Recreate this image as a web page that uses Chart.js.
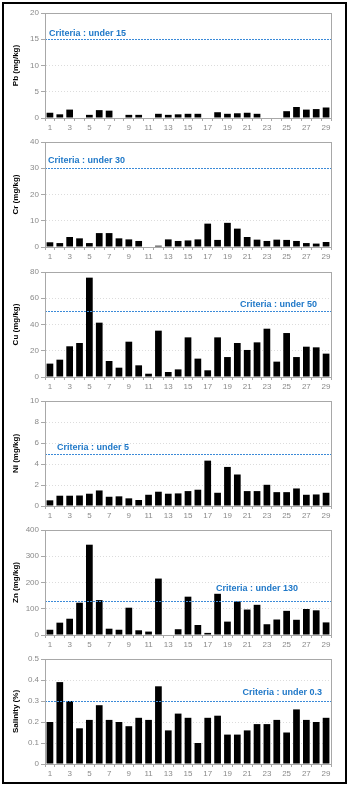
<!DOCTYPE html>
<html>
<head>
<meta charset="utf-8">
<script src="https://cdn.jsdelivr.net/npm/chart.js@4.4.1/dist/chart.umd.min.js"></script>
<style>
  html, body { margin: 0; padding: 0; background: #fff; }
  body { width: 350px; height: 788px; position: relative; overflow: hidden; }
  canvas { position: absolute; left: 0; }
  #frame { position: absolute; left: 2px; top: 2px; width: 345px; height: 782px; box-sizing: border-box; border: 2px solid #000; z-index: 5; pointer-events: none; }
</style>
</head>
<body>
<div id="frame"></div>
<canvas id="c0" width="350" height="130" style="top:0px"></canvas>
<canvas id="c1" width="350" height="130" style="top:129px"></canvas>
<canvas id="c2" width="350" height="130" style="top:259px"></canvas>
<canvas id="c3" width="350" height="130" style="top:388px"></canvas>
<canvas id="c4" width="350" height="130" style="top:517px"></canvas>
<canvas id="c5" width="350" height="130" style="top:646px"></canvas>
<script>
// ---- data ----
const sites = ["1","2","3","4","5","6","7","8","9","10","11","12","13","14","15","16","17","18","19","20","21","22","23","24","25","26","27","28","29"];
const pbValues = [1.0,0.7,1.6,0,0.6,1.5,1.4,0,0.6,0.6,0,0.8,0.6,0.7,0.8,0.8,0,1.1,0.8,0.9,1.0,0.8,0,0,1.3,2.1,1.6,1.7,2.0];
const crValues = [1.8,1.5,3.8,3.3,1.5,5.3,5.3,3.3,2.9,2.3,0,0.5,2.9,2.3,2.5,2.9,8.9,2.7,9.2,7.0,3.8,2.8,2.3,2.8,2.7,2.3,1.5,1.3,1.9];
const cuValues = [10.2,13.2,23.4,25.9,75.7,41.4,12.2,7.1,26.9,8.9,2.5,35.3,3.8,5.8,30.2,14.0,5.1,30.2,15.2,25.9,20.6,26.4,36.8,11.7,33.5,15.2,23.1,22.6,17.8];
const niValues = [0.54,0.98,0.98,1.0,1.17,1.48,0.88,0.92,0.73,0.57,1.07,1.36,1.17,1.2,1.42,1.55,4.32,1.26,3.72,3.0,1.42,1.42,2.02,1.32,1.32,1.67,1.07,1.1,1.26];
const znValues = [20,47,62,123,344,133,24,20,104,18,13,215,0,22,146,38,8,157,51,128,97,115,41,59,92,58,99,94,48];
const salinityValues = [0.20,0.39,0.30,0.17,0.21,0.28,0.21,0.20,0.18,0.22,0.21,0.37,0.16,0.24,0.22,0.10,0.22,0.23,0.14,0.14,0.16,0.19,0.19,0.21,0.15,0.26,0.21,0.20,0.22];

const seriesTitles = ["Pb (mg/kg)","Cr (mg/kg)","Cu (mg/kg)","Ni (mg/kg)","Zn (mg/kg)","Salinity (%)"];
const criteriaValues = [15,30,50,5,130,0.3];
const criteriaLabels = ["Criteria : under 15","Criteria : under 30","Criteria : under 50","Criteria : under 5","Criteria : under 130","Criteria : under 0.3"];
const yMaxValues = [20,40,80,10,400,0.5];
const yStepValues = [5,10,20,2,100,0.1];

const allSeries = [pbValues,crValues,cuValues,niValues,znValues,salinityValues];

// label placement (style only)
const labelPlacement = [
  {side:'left', dx:4, dy:6},
  {side:'left', dx:3, dy:8},
  {side:'right', dx:14, dy:7},
  {side:'left', dx:12, dy:7},
  {side:'right', dx:33, dy:13},
  {side:'right', dx:9, dy:9}
];

const FONT = "'Liberation Sans', Arial, sans-serif";

const boxPlugin = {
  id: 'plotBox',
  afterDraw(chart) {
    const {ctx, chartArea: a} = chart;
    ctx.save();
    ctx.strokeStyle = '#a8a8a8';
    ctx.lineWidth = 1;
    ctx.strokeRect(Math.round(a.left) + 0.5, Math.round(a.top) + 0.5, Math.round(a.right - a.left), Math.round(a.bottom - a.top));
    ctx.restore();
  }
};

const criteriaPlugin = {
  id: 'criteria',
  afterDatasetsDraw(chart, args, opts) {
    const {ctx, chartArea: a} = chart;
    const y = Math.round(chart.scales.y.getPixelForValue(opts.value)) + 0.5;
    ctx.save();
    ctx.strokeStyle = '#3b8ad8';
    ctx.lineWidth = 1;
    ctx.setLineDash([2, 1]);
    ctx.beginPath();
    ctx.moveTo(a.left, y);
    ctx.lineTo(a.right, y);
    ctx.stroke();
    ctx.setLineDash([]);
    ctx.fillStyle = '#1f78c8';
    ctx.font = "bold 9px " + FONT;
    ctx.textBaseline = 'middle';
    if (opts.side === 'left') {
      ctx.textAlign = 'left';
      ctx.fillText(opts.label, a.left + opts.dx, y - opts.dy);
    } else {
      ctx.textAlign = 'right';
      ctx.fillText(opts.label, a.right - opts.dx, y - opts.dy);
    }
    ctx.restore();
  }
};

allSeries.forEach((vals, i) => {
  const ctx = document.getElementById('c' + i);
  new Chart(ctx, {
    type: 'bar',
    data: {
      labels: sites,
      datasets: [{
        data: vals,
        backgroundColor: '#000',
        borderWidth: 0,
        categoryPercentage: 1.0,
        barPercentage: 0.68
      }]
    },
    options: {
      responsive: false,
      devicePixelRatio: 1,
      animation: false,
      events: [],
      layout: { padding: { top: 13, right: 19, left: 0, bottom: 0 } },
      plugins: {
        legend: { display: false },
        tooltip: { enabled: false },
        criteria: Object.assign({ value: criteriaValues[i], label: criteriaLabels[i] }, labelPlacement[i])
      },
      scales: {
        x: {
          grid: { display: true, drawOnChartArea: false, offset: true, tickLength: 3, color: '#a8a8a8', tickColor: '#a8a8a8' },
          border: { display: true, color: '#a8a8a8' },
          ticks: {
            autoSkip: false, maxRotation: 0, minRotation: 0, padding: 2,
            color: '#8a8a8a', font: { size: 8, family: FONT },
            callback: function(v, idx) { return idx % 2 === 0 ? this.getLabelForValue(v) : ''; }
          },
          afterFit(scale) { scale.height = 12; }
        },
        y: {
          min: 0, max: yMaxValues[i],
          ticks: { stepSize: yStepValues[i], padding: 2, color: '#8a8a8a', font: { size: 8, family: FONT } },
          grid: { color: '#dcdcdc', tickColor: '#a8a8a8', tickLength: 4, tickBorderDash: [] },
          border: { display: true, color: '#a8a8a8', dash: [1, 2] },
          title: { display: true, text: seriesTitles[i], color: '#000', font: { size: 8, weight: 'bold', family: FONT }, padding: { top: 11, bottom: 0 } },
          afterFit(scale) { scale.width = 45; }
        }
      }
    },
    plugins: [boxPlugin, criteriaPlugin]
  });
});
</script>
</body>
</html>
